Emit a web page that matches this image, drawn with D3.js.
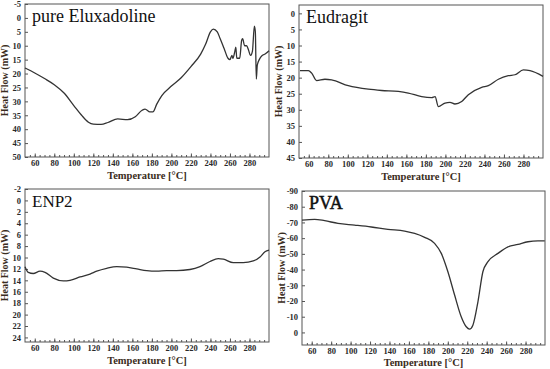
<!DOCTYPE html>
<html>
<head>
<meta charset="utf-8">
<script src="https://cdn.jsdelivr.net/npm/d3@7"></script>
<style>
  body { margin: 0; background: #fff; }
  svg { display: block; }
  svg text { font-family: "Liberation Serif", "DejaVu Serif", serif; }
</style>
</head>
<body>
<div id="container"></div>
<script>
/* CONSTANTS AND GLOBALS */
const width = 550;
const height = 369;
const axisColor = "#3a2c20";
const serif = "'Liberation Serif', 'DejaVu Serif', serif";

/* DATA (temperature in °C, heat flow in mW) */
const xTicks = [60, 80, 100, 120, 140, 160, 180, 200, 220, 240, 260, 280];

const eluxTemp = [50, 60, 70, 80, 90, 100, 108, 115, 120, 128, 135, 145, 155, 163, 170, 173, 178, 181, 185, 190, 200, 210, 220, 230, 235, 240, 243, 247, 250, 254, 258, 260, 262, 263, 265, 266, 267, 270, 272, 273, 275, 277, 279, 281, 283, 285, 286, 287, 288, 290, 293, 296, 300];
const eluxFlow = [18, 19.8, 21.8, 24, 27, 31.5, 35, 37.5, 38.2, 38.3, 37.6, 36.3, 36.6, 35.5, 33.2, 32.8, 33.8, 33.8, 31, 28, 24.5, 21.5, 17.5, 13, 9.5, 5, 4, 5, 7.5, 11, 14.5, 15, 13.5, 14.5, 12, 10.5, 14.5, 14.5, 8, 7.5, 10, 10, 11.5, 13.5, 12, 3, 5, 22, 17, 15, 13.5, 13, 11.8];
const eluxTicks = [-5, 0, 5, 10, 15, 20, 25, 30, 35, 40, 45, 50];

const eudTemp = [51, 59.6, 63, 68, 76.6, 83.4, 100.5, 121, 134.7, 151.8, 162, 175.7, 186, 189.4, 192.8, 199.6, 204.7, 209.8, 216.7, 223.5, 237.2, 244, 254.3, 264.5, 271.3, 279.9, 286.7, 300];
const eudFlow = [17.8, 17.8, 18.6, 20.9, 20.5, 20.7, 22.5, 23.6, 24, 24.3, 24.8, 25.9, 26.2, 25.9, 29, 27.9, 27.7, 28.2, 27.4, 25.3, 23, 22.5, 20.5, 19.4, 19.1, 17.6, 17.8, 19.6];
const eudTicks = [0, 5, 10, 15, 20, 25, 30, 35, 40, 45];

const enpTemp = [50, 53.4, 58.5, 65.4, 70.5, 79, 89.3, 96.1, 106.4, 116.6, 123.5, 133.7, 144, 154.2, 164.5, 174.7, 185, 195.2, 205.4, 219, 229.3, 239.5, 248, 253.2, 263.4, 273.6, 283.9, 290.8, 295.9, 300];
const enpFlow = [11.6, 12.6, 12.8, 12.4, 12.6, 13.6, 14.1, 14, 13.4, 12.9, 12.4, 11.9, 11.6, 11.7, 12, 12.3, 12.4, 12.3, 12.3, 12.1, 11.6, 10.7, 10.2, 10.3, 10.9, 10.9, 10.6, 9.9, 9, 8.7];
const enpTicks = [-2, 0, 2, 4, 6, 8, 10, 12, 14, 16, 18, 20, 22, 24];

const pvaTemp = [50, 63, 73.3, 87, 104.1, 121.3, 138.4, 155.6, 165.9, 176.2, 186.4, 193.3, 200.1, 207, 213.8, 219, 222.4, 225.8, 231, 236.1, 241.3, 251.6, 261.9, 272.2, 282.5, 292.8, 299.7];
const pvaFlow = [-71.5, -72, -71.1, -69.4, -68.3, -67.1, -65.6, -64.5, -63, -60.5, -56.7, -50.3, -38.6, -23.8, -10, -3.6, -2.1, -4.6, -19.5, -38.6, -45, -50.3, -54.5, -56, -57.7, -58.2, -58.2];
const pvaTicks = [-90, -80, -70, -60, -50, -40, -30, -20, -10, 0];

const panels = [
  { title: "pure Eluxadoline", temp: eluxTemp, flow: eluxFlow, ticks: eluxTicks, yDomain: [-5, 50],
    box: { left: 25, right: 269, top: 4, bottom: 157 }, titleSize: 18, heavy: false, xLabelGap: 22 },
  { title: "Eudragit", temp: eudTemp, flow: eudFlow, ticks: eudTicks, yDomain: [-2.6, 45],
    box: { left: 299, right: 543, top: 5, bottom: 158 }, titleSize: 18, heavy: false, xLabelGap: 22 },
  { title: "ENP2", temp: enpTemp, flow: enpFlow, ticks: enpTicks, yDomain: [-2, 24.8],
    box: { left: 25, right: 269, top: 189, bottom: 342 }, titleSize: 17, heavy: false, xLabelGap: 22 },
  { title: "PVA", temp: pvaTemp, flow: pvaFlow, ticks: pvaTicks, yDomain: [-90, 8],
    box: { left: 302, right: 545, top: 191, bottom: 345 }, titleSize: 18, heavy: true, xLabelGap: 20.5 }
];

/* HTML ELEMENTS */
const svg = d3.select("#container")
  .append("svg")
  .attr("width", width)
  .attr("height", height);

panels.forEach(p => {
  const b = p.box;

  /* SCALES */
  const xScale = d3.scaleLinear().domain([50, 300]).range([b.left, b.right]);
  const yScale = d3.scaleLinear().domain(p.yDomain).range([b.top, b.bottom]);

  const g = svg.append("g");

  // frame
  g.append("rect")
    .attr("x", b.left)
    .attr("y", b.top)
    .attr("width", b.right - b.left)
    .attr("height", b.bottom - b.top)
    .attr("fill", "none")
    .attr("stroke", "#555")
    .attr("stroke-width", 1);

  // minor ticks on x
  const xMinor = g.append("g")
    .attr("transform", `translate(0,${b.bottom})`)
    .call(d3.axisBottom(xScale).tickValues(d3.range(55, 300, 5)).tickSize(-2).tickFormat(""));
  xMinor.select(".domain").remove();
  xMinor.selectAll("line").attr("stroke", "#555");

  // x axis
  const xAxis = g.append("g")
    .attr("transform", `translate(0,${b.bottom})`)
    .call(d3.axisBottom(xScale).tickValues(xTicks).tickSize(-3.5).tickPadding(3).tickFormat(d => d))
    .attr("font-family", serif);
  xAxis.select(".domain").remove();
  xAxis.selectAll("line").attr("stroke", "#555");
  xAxis.selectAll("text")
    .attr("fill", "#2a2a2a")
    .style("font-family", serif)
    .style("font-size", "8.5px")
    .style("font-weight", "bold");

  // y axis
  const yAxis = g.append("g")
    .attr("transform", `translate(${b.left},0)`)
    .call(d3.axisLeft(yScale).tickValues(p.ticks).tickSize(-3).tickPadding(4).tickFormat(d => String(d)))
    .attr("font-family", serif);
  yAxis.select(".domain").remove();
  yAxis.selectAll("line").attr("stroke", "#555");
  yAxis.selectAll("text")
    .attr("fill", "#2a2a2a")
    .style("font-family", serif)
    .style("font-size", "8.5px")
    .style("font-weight", "bold");

  // curve
  const line = d3.line()
    .x((d, i) => xScale(p.temp[i]))
    .y(d => yScale(d))
    .curve(d3.curveMonotoneX);

  g.append("path")
    .datum(p.flow)
    .attr("d", line)
    .attr("fill", "none")
    .attr("stroke", "#333")
    .attr("stroke-width", 1.3);

  // title
  g.append("text")
    .attr("x", b.left + 7)
    .attr("y", b.top + 18)
    .text(p.title)
    .attr("fill", "#111")
    .attr("stroke", p.heavy ? "#111" : "none")
    .attr("stroke-width", p.heavy ? 0.5 : 0)
    .style("font-family", serif)
    .style("font-size", p.titleSize + "px");

  // axis titles
  g.append("text")
    .attr("x", (b.left + b.right) / 2)
    .attr("y", b.bottom + p.xLabelGap)
    .attr("text-anchor", "middle")
    .attr("fill", axisColor)
    .style("font-family", serif)
    .style("font-size", "10.5px")
    .style("font-weight", "bold")
    .text("Temperature [°C]");

  g.append("text")
    .attr("transform", `translate(${b.left - 17},${(b.top + b.bottom) / 2}) rotate(-90)`)
    .attr("text-anchor", "middle")
    .attr("fill", axisColor)
    .style("font-family", serif)
    .style("font-size", "10px")
    .style("font-weight", "bold")
    .text("Heat Flow (mW)");
});
</script>
</body>
</html>
